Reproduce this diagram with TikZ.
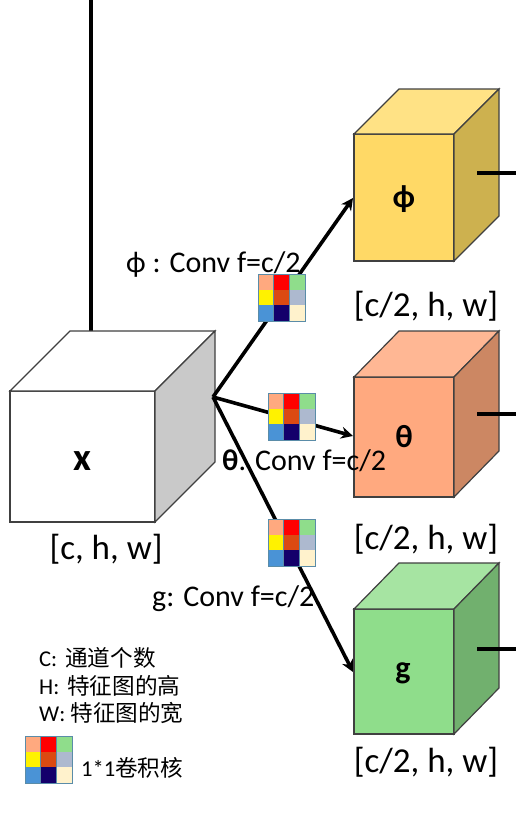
\documentclass[tikz,border=0pt]{standalone}
\usepackage{fontspec}
\setmainfont{Carlito}
\newfontfamily\cjk{Noto Sans CJK SC}
\usepackage{xcolor}
\usepackage{tikz}
\usetikzlibrary{positioning,arrows.meta}

\definecolor{yellowfront}{HTML}{FFD966}
\definecolor{yellowtop}{HTML}{FFE285}
\definecolor{yellowside}{HTML}{CDB14F}
\definecolor{orangefront}{HTML}{FFA97F}
\definecolor{orangetop}{HTML}{FFB794}
\definecolor{orangeside}{HTML}{CC8763}
\definecolor{greenfront}{HTML}{8FDD8B}
\definecolor{greentop}{HTML}{A6E4A2}
\definecolor{greenside}{HTML}{71B06E}
\definecolor{kernelline}{HTML}{5A8CA8}
\definecolor{kernelrust}{HTML}{DB4A12}
\definecolor{kernelgrey}{HTML}{ADB9CF}
\definecolor{kernelblue}{HTML}{4A93D6}
\definecolor{kernelnavy}{HTML}{14006B}
\definecolor{kernelcream}{HTML}{FFF2CC}

\tikzset{
	cubeedge/.style={draw=black!75, line width=1.2pt},
	flow/.style={line width=3.6pt, black},
	flowtip/.style={flow, -{Stealth[length=12pt,width=12pt]}},
	sizetext/.style={font=\fontsize{35}{38}\selectfont, inner sep=0pt},
	convtext/.style={font=\fontsize{30}{34}\selectfont, inner sep=0pt, anchor=base west},
	cubetext/.style={font=\bfseries\fontsize{32}{36}\selectfont, inner sep=0pt},
	legendtext/.style={font=\fontsize{22.6}{26}\selectfont, inner sep=0pt, anchor=base west},
}

% #1 name, #2 left, #3 top
\newcommand{\kernelbox}[3]{
	\begin{scope}[shift={(#2,#3)}]
		\fill[orangefront] (0,0) rectangle (15.7,15.7);
		\fill[red] (15.7,0) rectangle (31.4,15.7);
		\fill[greenfront] (31.4,0) rectangle (47,15.7);
		\fill[yellow] (0,15.7) rectangle (15.7,31.4);
		\fill[kernelrust] (15.7,15.7) rectangle (31.4,31.4);
		\fill[kernelgrey] (31.4,15.7) rectangle (47,31.4);
		\fill[kernelblue] (0,31.4) rectangle (15.7,47);
		\fill[kernelnavy] (15.7,31.4) rectangle (31.4,47);
		\fill[kernelcream] (31.4,31.4) rectangle (47,47);
		\draw[kernelline, line width=0.8pt] (0,0) grid[step=15.67] (47,47);
		\node[draw=kernelline, line width=1pt, minimum size=47pt, inner sep=0pt, outer sep=0pt, anchor=north west] (#1) at (0,0) {};
	\end{scope}
}

% #1 name, #2 left, #3 top, #4 width, #5 height, #6 depth x, #7 depth y, #8 front, #9 colour base
\newcommand{\cubebox}[9]{
	\node[cubeedge, fill=#8, minimum width=#4pt, minimum height=#5pt, inner sep=0pt, outer sep=0pt, anchor=north west] (#1) at (#2,#3) {};
	\filldraw[cubeedge, fill=#9top] (#1.north west) -- ++(#6,-#7) -- ++(#4,0) -- (#1.north east) -- cycle;
	\filldraw[cubeedge, fill=#9side] (#1.north east) -- ++(#6,-#7) -- ++(0,#5) -- (#1.south east) -- cycle;
}

\colorlet{whitetop}{white}
\colorlet{whiteside}{black!21}

\begin{document}
\begin{tikzpicture}[x=1pt,y=-1pt]
	\useasboundingbox (0,0) rectangle (516,838);

	\coordinate (linetop) at (91,0);
	\coordinate (fork) at (213,397);
	\coordinate (phistub) at (477,173);
	\coordinate (thetastub) at (477,414);
	\coordinate (gstub) at (477,649);
	\coordinate (phiend) at (516,173);
	\coordinate (thetaend) at (516,414);
	\coordinate (gend) at (516,649);
	\coordinate (phiin) at (353,198);
	\coordinate (thetain) at (353,436);
	\coordinate (gin) at (353,672);
	\coordinate (xtop) at (91,331);

	\draw[flow] (linetop) -- (xtop);

	\cubebox{xcube}{10}{391}{145}{131}{60}{60}{white}{white}
	\cubebox{phicube}{354}{134}{100}{127}{45}{45}{yellowfront}{yellow}
	\cubebox{thetacube}{354}{377}{100}{120}{45}{46}{orangefront}{orange}
	\cubebox{gcube}{354}{609}{100}{125}{45}{46}{greenfront}{green}

	\draw[flow] (phistub) -- (phiend);
	\draw[flow] (thetastub) -- (thetaend);
	\draw[flow] (gstub) -- (gend);

	\draw[flowtip] (fork) -- (phiin);
	\draw[flowtip] (fork) -- (thetain);
	\draw[flowtip] (fork) -- (gin);

	\kernelbox{phikernel}{258}{274}
	\kernelbox{thetakernel}{268}{393}
	\kernelbox{gkernel}{268}{519}
	\kernelbox{legendkernel}{25}{736}

	\node[cubetext, font=\bfseries\fontsize{39}{40}\selectfont] (xlabel) at (82,461) {x};
	\node[cubetext] (philabel) at (404,199) {ϕ};
	\node[cubetext] (thetalabel) at (404,437) {θ};
	\node[cubetext] (glabel) at (403,673) {g};

	\node[sizetext] (xsize) at (106,549) {[c, h, w]};
	\node[sizetext] (phisize) at (426,306) {[c/2, h, w]};
	\node[sizetext] (thetasize) at (426,539) {[c/2, h, w]};
	\node[sizetext] (gsize) at (426,762) {[c/2, h, w]};

	\node[convtext] (phiconv) at (126,272) {ϕ : Conv f=c/2};
	\node[convtext] (thetaconv) at (222,470) {\textbf{θ}. Conv f=c/2};
	\node[convtext] (gconv) at (152,606) {g: Conv f=c/2};

	\node[legendtext] (legendc) at (39,666) {C:\hspace{8pt}{\cjk 通道个数}};
	\node[legendtext] (legendh) at (39,694) {H:\hspace{8pt}{\cjk 特征图的高}};
	\node[legendtext] (legendw) at (39,721) {W: {\cjk 特征图的宽}};
	\node[legendtext] (legendk) at (81,776) {1*1{\cjk 卷积核}};
\end{tikzpicture}
\end{document}
